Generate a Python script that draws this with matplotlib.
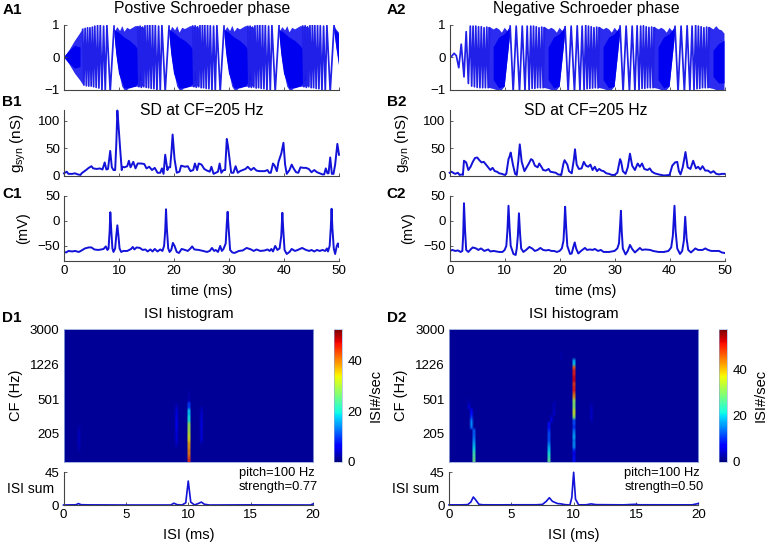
import numpy as np
import matplotlib
matplotlib.use("Agg")
import matplotlib.pyplot as plt

plt.rcParams['font.family'] = ['Liberation Sans', 'DejaVu Sans']
plt.rcParams['mathtext.default'] = 'regular'

W, H = 768.0, 545.0
nan = float('nan')

# A1, sparse part of the waveform (turning points)
a1_zig_t = [3.4, 3.62, 3.84, 4.06, 4.28, 4.5, 4.72, 4.94, 5.16, 5.38, 5.6, 5.85, 6.1, 6.35, 6.6, 6.9, 7.2, 7.5, 7.8, 8.4, 9.1, nan,
            13.4, 13.62, 13.84, 14.06, 14.28, 14.5, 14.72, 14.94, 15.16, 15.38, 15.6, 15.85, 16.1, 16.35, 16.6, 16.9, 17.2, 17.5, 17.8, 18.4, 19.1, nan,
            23.4, 23.62, 23.84, 24.06, 24.28, 24.5, 24.72, 24.94, 25.16, 25.38, 25.6, 25.85, 26.1, 26.35, 26.6, 26.9, 27.2, 27.5, 27.8, 28.4, 29.1, nan,
            33.4, 33.62, 33.84, 34.06, 34.28, 34.5, 34.72, 34.94, 35.16, 35.38, 35.6, 35.85, 36.1, 36.35, 36.6, 36.9, 37.2, 37.5, 37.8, 38.4, 39.1, nan,
            43.4, 43.62, 43.84, 44.06, 44.28, 44.5, 44.72, 44.94, 45.16, 45.38, 45.6, 45.85, 46.1, 46.35, 46.6, 46.9, 47.2, 47.5, 47.8, 48.4, 49.1]
a1_zig_y = [.85, -.85, .88, -.87, .9, -.88, .9, -.88, .92, -.9, .95, -.92, .97, -.94, .98, -1.02, .95, -1.03, .97, -1.05, .95, nan,
            .93, -.9, .95, -.92, .92, -.9, .96, -.92, .97, -.93, .98, -.95, .98, -.96, .97, -1.03, .95, -1.04, .97, -1.05, .95, nan,
            .95, -.9, .96, -.92, .93, -.9, .97, -.93, .98, -.93, .99, -.95, .98, -.96, .96, -1.03, .95, -1.04, .97, -1.05, .95, nan,
            .94, -.91, .95, -.92, .92, -.91, .96, -.94, .97, -.93, .98, -.95, .98, -.96, .97, -1.03, .95, -1.04, .97, -1.05, .96, nan,
            .95, -.9, .96, -.92, .93, -.9, .97, -.93, .97, -.93, .98, -.95, .97, -.96, .96, -1.03, .95, -1.04, .97, -1.05, .97]

# A1, envelope of the dense part
a1_env_t = [0, .5, 1, 2, 3, 3.5, nan,
            9.1, 9.3, 9.7, 10.2, 10.6, 11, 11.5, 12, 13, 14, 14.6, nan,
            19.1, 19.3, 19.7, 20.2, 20.6, 21, 21.5, 22, 23, 24, 24.6, nan,
            29.1, 29.3, 29.7, 30.2, 30.6, 31, 31.5, 32, 33, 34, 34.6, nan,
            39.1, 39.3, 39.7, 40.2, 40.6, 41, 41.5, 42, 43, 44, 44.6, nan,
            49.1, 49.5, 50]
a1_env_hi = [0, .1, .22, .5, .75, .88, nan,
             .95, .8, .92, .8, .95, .78, .9, .85, .95, .93, .9, nan,
             .97, .8, .93, .82, .95, .75, .9, .86, .95, .93, .9, nan,
             .95, .82, .92, .8, .96, .78, .9, .85, .95, .93, .9, nan,
             .96, .8, .92, .82, .95, .76, .9, .85, .95, .93, .9, nan,
             1.0, .85, .75]
a1_env_lo = [0, -.1, -.22, -.5, -.72, -.85, nan,
             .9, .45, -.1, -.6, -.9, -1, -1, -.92, -.9, -.9, -.88, nan,
             .9, .45, -.1, -.6, -.9, -1, -1, -.92, -.9, -.9, -.88, nan,
             .9, .45, -.1, -.6, -.9, -1, -1, -.92, -.9, -.9, -.88, nan,
             .9, .45, -.1, -.6, -.9, -1, -1, -.92, -.9, -.9, -.88, nan,
             .9, .3, -.25]
a1_core_t = [0, 1, 2, 3, nan,
             9.1, 9.5, 10, 11, 12, 13, 14, nan,
             19.1, 19.5, 20, 21, 22, 23, 24, nan,
             29.1, 29.5, 30, 31, 32, 33, 34, nan,
             39.1, 39.5, 40, 41, 42, 43, 44, nan,
             49.1, 49.5, 50]
a1_core_hi = [0, .2, .35, .3, nan,
              .85, .8, .75, .6, .5, .35, .1, nan,
              .85, .8, .75, .6, .5, .35, .1, nan,
              .85, .8, .75, .6, .5, .35, .1, nan,
              .85, .8, .75, .6, .5, .35, .1, nan,
              .9, .8, .7]
a1_core_lo = [0, -.2, -.35, -.3, nan,
              .85, .1, -.5, -.95, -.95, -.9, -.7, nan,
              .85, .1, -.5, -.95, -.95, -.9, -.7, nan,
              .85, .1, -.5, -.95, -.95, -.9, -.7, nan,
              .85, .1, -.5, -.95, -.95, -.9, -.7, nan,
              .85, .35, -.2]

# A2
a2_zig_t = [0, .3, .8, 1.2, 1.65, 2.1, 2.6, 3.0, 3.4, 3.75, 4.0, 4.25, 4.5, 4.75, 5.0, 5.25, 5.5, 5.75, 6.0, 6.25, 6.5, 6.75, 7.0, 7.25, nan,
            11.0, 11.55, 12.1, 12.7, 13.2, 13.7, 14.1, 14.45, 14.75, 15.0, 15.25, 15.5, 15.75, 16.0, 16.25, 16.5, 16.75, 17.0, 17.25, nan,
            21.0, 21.55, 22.1, 22.7, 23.2, 23.7, 24.1, 24.45, 24.75, 25.0, 25.25, 25.5, 25.75, 26.0, 26.25, 26.5, 26.75, 27.0, 27.25, nan,
            31.0, 31.55, 32.1, 32.7, 33.2, 33.7, 34.1, 34.45, 34.75, 35.0, 35.25, 35.5, 35.75, 36.0, 36.25, 36.5, 36.75, 37.0, 37.25, nan,
            41.0, 41.55, 42.1, 42.7, 43.2, 43.7, 44.1, 44.45, 44.75, 45.0, 45.25, 45.5, 45.75, 46.0, 46.25, 46.5, 46.75, 47.0, 47.25]
a2_zig_y = [0, .02, .12, .05, -.32, .4, -.6, .78, -.8, .95, -.88, .95, -.9, .95, -.92, .93, -.93, .93, -.93, .9, -.93, .92, -.93, .9, nan,
            .95, -1.05, .95, -1.05, .95, -1.02, .95, -1.0, .95, -.95, .95, -.95, .93, -.93, .9, -.93, .92, -.93, .9, nan,
            .93, -1.05, .95, -1.05, .96, -1.02, .95, -1.0, .97, -.96, .95, -.95, .93, -.94, .9, -.93, .92, -.94, .9, nan,
            .95, -1.05, .95, -1.05, .95, -1.03, .96, -1.0, .95, -.95, .96, -.95, .93, -.93, .91, -.93, .92, -.93, .9, nan,
            .94, -1.05, .95, -1.05, .96, -1.02, .95, -1.0, .98, -.96, .95, -.95, .93, -.93, .9, -.93, .92, -.93, .9]
a2_env_t = [7, 7.5, 8, 8.5, 9, 9.5, 10, 10.5, 11, nan,
            17, 17.5, 18, 18.5, 19, 19.5, 20, 20.5, 21, nan,
            27, 27.5, 28, 28.5, 29, 29.5, 30, 30.5, 31, nan,
            37, 37.5, 38, 38.5, 39, 39.5, 40, 40.5, 41, nan,
            47, 47.5, 48, 48.5, 49, 49.5, 50]
a2_env_hi = [.92, .9, .85, .9, .85, .75, .9, .8, .95, nan,
             .92, .9, .85, .9, .85, .75, .9, .8, .95, nan,
             .92, .9, .85, .9, .85, .75, .9, .8, .95, nan,
             .92, .9, .85, .9, .85, .75, .9, .8, .95, nan,
             .92, .9, .85, .95, .85, .82, .72]
a2_env_lo = [-.93, -.95, -.97, -1, -1, -1, -.9, -.1, .7, nan,
             -.93, -.95, -.97, -1, -1, -1, -.9, -.1, .7, nan,
             -.93, -.95, -.97, -1, -1, -1, -.9, -.1, .7, nan,
             -.93, -.95, -.97, -1, -1, -1, -.9, -.1, .7, nan,
             -.93, -.95, -.97, -1, -1, -1, -1]
a2_core_t = [8, 9, 10, 10.5, 11, nan, 18, 19, 20, 20.5, 21, nan, 28, 29, 30, 30.5, 31, nan,
             38, 39, 40, 40.5, 41, nan, 48, 49, 50]
a2_core_hi = [.3, .6, .7, .8, .9, nan, .3, .6, .7, .8, .9, nan, .3, .6, .7, .8, .9, nan,
              .3, .6, .7, .8, .9, nan, .2, .4, .5]
a2_core_lo = [-.7, -.95, -.9, -.1, .7, nan, -.7, -.95, -.9, -.1, .7, nan, -.7, -.95, -.9, -.1, .7, nan,
              -.7, -.95, -.9, -.1, .7, nan, -.6, -.8, -.8]

# synaptic conductance
b1_t = [0, .5, .8, 1.5, 2, 2.5, 3, 3.2, 4, 4.5, 5, 5.3, 6, 6.5, 7, 7.4, 7.7, 8, 8.4, 8.7, 9, 9.3, 9.5, 9.7, 9.85, 10.2, 10.5,
        10.6, 11, 11.5, 11.8, 12.1, 12.6, 13, 13.4, 14, 14.6, 15, 15.5, 16, 16.5, 17, 17.5, 17.8, 18.1, 18.4, 18.8, 19, 19.3, 19.55, 19.75, 20.1, 20.5,
        21, 21.3, 22, 22.5, 23, 23.5, 23.8, 24.2, 24.5, 25, 25.5, 26, 26.5, 26.8, 27.2, 27.6, 28, 28.3, 28.6, 29, 29.3, 29.6, 29.8, 30.1, 30.4,
        30.8, 31.2, 31.6, 32, 32.5, 33, 33.4, 34, 34.5, 35, 35.5, 36, 36.5, 37, 37.3, 37.6, 38, 38.3, 38.7, 39, 39.5, 39.9, 40.2, 40.5,
        41, 41.4, 41.8, 42.2, 42.6, 43, 43.5, 44, 44.5, 45, 45.5, 46, 46.5, 47, 47.3, 47.6, 47.9, 48.1, 48.4, 48.7, 49, 49.3, 49.7, 50]
b1_y = [4, 7, 3, 3, 4, 2, 1, 4, 10, 14, 17, 13, 12, 13, 11, 24, 11, 12, 45, 15, 10, 10, 55, 119, 100, 50, 10,
        16, 15, 17, 27, 15, 25, 13, 22, 22, 21, 13, 16, 10, 14, 5, 5, 13, 3, 38, 10, 15, 15, 45, 75, 30, 5,
        7, 18, 16, 17, 8, 10, 22, 10, 22, 20, 12, 9, 7, 16, 3, 5, 7, 22, 5, 10, 10, 67, 55, 30, 5,
        5, 17, 5, 8, 10, 12, 16, 10, 14, 9, 8, 8, 8, 10, 5, 5, 22, 18, 8, 25, 40, 60, 20, 3,
        10, 20, 12, 6, 5, 15, 14, 14, 12, 6, 10, 6, 4, 2, 2, 13, 4, 4, 33, 3, 3, 20, 58, 38]

b2_t = [0, .3, .8, 1, 1.5, 1.8, 2.2, 2.4, 2.6, 3, 3.4, 3.8, 4.2, 4.6, 5, 5.4, 5.8, 6.2, 6.6, 7, 7.4, 7.8, 8.2, 8.6, 9, 9.5, 10, 10.3,
        10.7, 10.9, 11.1, 11.5, 11.9, 12.2, 12.5, 12.75, 13.1, 13.6, 14, 14.4, 14.8, 15.1, 15.5, 16, 16.3, 16.8, 17, 17.5, 18, 18.3, 18.8, 19.3, 19.7, 20.3,
        20.7, 20.9, 21.4, 21.7, 22.2, 22.6, 22.8, 23.1, 23.5, 24, 24.4, 24.8, 25.2, 25.6, 26, 26.4, 26.8, 27.2, 27.6, 28, 28.5, 29, 29.5, 30, 30.5,
        31, 31.2, 31.5, 32, 32.4, 32.8, 33.2, 33.7, 34.2, 34.6, 35, 35.4, 36, 36.4, 36.8, 37.3, 38, 39, 40, 40.5, 41, 41.4, 41.7, 42,
        42.4, 42.9, 43.3, 43.8, 44.3, 44.8, 45.2, 45.6, 46, 46.5, 47, 47.5, 48, 48.5, 49, 49.5, 50]
b2_y = [5, 7, 4, 3, 5, 1, 2, 1, 27, 24, 10, 16, 25, 32, 33, 28, 24, 25, 20, 15, 10, 14, 8, 7, 4, 3, 1, 3,
        30, 35, 42, 20, 3, 1, 28, 57, 25, 8, 15, 22, 30, 28, 18, 15, 22, 14, 10, 9, 12, 7, 6, 5, 2, 1,
        22, 28, 20, 8, 4, 30, 48, 20, 12, 13, 25, 18, 16, 20, 10, 16, 8, 12, 9, 8, 4, 3, 1, 1, 5,
        30, 25, 8, 3, 15, 40, 18, 10, 22, 16, 22, 12, 10, 13, 7, 4, 2, 0, 1, 18, 24, 25, 8, 2,
        15, 43, 15, 12, 27, 13, 16, 11, 17, 9, 9, 5, 8, 3, 2, 3, 3]

# membrane potential
c1_t = [0, .4, .8, 1.5, 2, 2.7, 3.2, 3.8, 4.5, 5, 5.5, 6.2, 6.8, 7.2, 7.6, 7.9, 8.1, 8.3, 8.42, 8.6, 8.8, 9, 9.3, 9.5, 9.7, 9.9, 10.1, 10.4,
        10.8, 11.5, 12.2, 12.5, 12.8, 13.2, 13.8, 14.3, 14.8, 15.2, 15.7, 16.1, 16.5, 17, 17.5, 17.9, 18.2, 18.4, 18.55, 18.7, 18.95, 19.2, 19.5, 19.8, 20.1, 20.5,
        20.9, 21.4, 22, 22.5, 23, 23.3, 23.7, 24.5, 25.3, 26, 26.5, 26.9, 27.3, 27.6, 28, 28.4, 28.7, 29, 29.4, 29.6, 29.75, 29.9, 30.2, 30.6,
        31, 31.8, 32.5, 33.2, 34, 34.5, 35, 35.7, 36.5, 37, 37.4, 37.7, 38, 38.4, 38.8, 39.2, 39.5, 39.7, 39.85, 40.1, 40.5,
        41, 41.4, 42, 42.5, 43.3, 44, 44.6, 45, 45.5, 46, 46.5, 47, 47.5, 47.8, 48, 48.3, 48.5, 48.65, 48.8, 49.05, 49.3, 49.6, 49.8, 50]
c1_y = [-62, -63, -60, -61, -60, -62, -59, -55, -53, -53, -57, -58, -57, -56, -51, -58, -55, -20, 17, -20, -55, -62, -55, -30, -9, -30, -55, -62,
        -60, -60, -56, -52, -57, -53, -54, -58, -57, -61, -57, -61, -56, -61, -57, -60, -50, -20, 23, -15, -55, -62, -58, -44, -50, -62,
        -64, -56, -58, -60, -55, -51, -57, -58, -60, -62, -60, -54, -60, -58, -62, -50, -60, -56, -45, -5, 18, -10, -58, -63,
        -64, -60, -59, -54, -57, -60, -57, -60, -59, -57, -60, -56, -61, -50, -58, -55, -30, 16, -15, -58, -66,
        -62, -56, -60, -58, -54, -58, -60, -58, -61, -58, -60, -58, -60, -55, -61, -50, -15, 24, -15, -55, -66, -50, -45, -52]

c2_t = [0, .5, 1, 1.5, 2, 2.3, 2.45, 2.6, 2.8, 3, 3.4, 3.8, 4.2, 4.8, 5.2, 5.7, 6.3, 7, 7.4, 8, 9, 9.6, 10, 10.3, 10.5, 10.7, 10.9, 11.1, 11.6,
        12, 12.2, 12.4, 12.6, 12.8, 13, 13.4, 13.9, 14.5, 15, 15.5, 16, 16.5, 17, 17.5, 18, 18.5, 19, 19.5, 20, 20.4, 20.7, 20.85, 21, 21.2, 21.4, 21.9,
        22.2, 22.5, 22.75, 23, 23.4, 23.9, 24.6, 25, 25.5, 26, 26.4, 27, 27.5, 28, 29, 30, 30.5, 30.8, 31, 31.15, 31.3, 31.5, 32,
        32.4, 32.8, 33.2, 33.7, 34.6, 35, 35.6, 36.5, 37, 38, 39, 39.8, 40.3, 40.6, 40.9, 41.1, 41.4, 41.9,
        42.3, 42.6, 42.85, 43.1, 43.4, 43.9, 44.7, 45.2, 46, 46.5, 47, 47.6, 48.2, 49, 49.5, 50]
c2_y = [-60, -58, -60, -59, -62, -60, -30, 35, -20, -58, -62, -57, -53, -55, -58, -55, -60, -57, -61, -60, -62, -62, -58, -50, -20, 30, -15, -50, -66,
        -68, -55, -30, 15, -25, -55, -62, -58, -52, -55, -60, -58, -54, -58, -59, -58, -60, -60, -62, -60, -55, -40, -10, 28, -15, -50, -66,
        -65, -52, -43, -55, -65, -60, -54, -58, -57, -58, -56, -60, -58, -62, -62, -60, -55, -45, -10, 20, -20, -55, -67,
        -60, -48, -56, -63, -54, -58, -57, -58, -60, -62, -62, -60, -53, -30, 30, -20, -55, -66,
        -60, -40, 8, -35, -58, -63, -55, -58, -58, -55, -58, -60, -60, -60, -63, -64]

# ISI histogram ridges, one value per CF channel counted from the lowest CF
d1_ridge10 = [45, 42, 40, 40, 38, 38, 35, 33, 32, 30, 30, 28, 20, 20, 18, 18, 10, 10, 2.5, 2, 2, 1.5]
d1_ridge9 = [0, 0, 0, 0, 2, 3, 4, 4, 4, 4.5, 5, 5, 5, 4.5, 4.5, 4, 3, 2]
d1_ridge11 = [0, 0, 0, 0, 0, 2, 3.5, 4, 4, 4, 4.5, 4.5, 4, 4, 3.5, 3, 2]
d1_ridge1 = [0, 0, 0, 2, 2.5, 3, 3, 3, 3, 2.5, 2, 1.5]
d2_ridge2_isi = [1.95, 1.98, 2.0, 2.03, 2.05, 2.05, 2.03, 2.0, 1.98, 1.95, 1.9, 1.88, 1.85, 1.82, 1.78, 1.74, 1.7, 1.65, 1.6]
d2_ridge2_val = [28, 26, 25, 22, 20, 18, 16, 14, 13, 13, 14, 15, 14, 10, 8, 7, 5, 3, 2]
d2_ridge8_isi = [8.07, 8.03, 8.0, 7.96, 7.94, 7.94, 7.96, 7.98, 8.0, 8.03, 8.07, 8.1, 8.15, 8.22, 8.3, 8.38, 8.45, 8.5, 8.55]
d2_ridge8_val = [27, 24, 22, 20, 18, 15, 12, 12, 12, 10, 8, 8, 5, 4, 4, 3, 3, 3, 2]
d2_ridge10 = [8, 8, 6, 9, 16, 16, 15, 18, 16, 14, 10, 12, 12, 30, 35, 35, 30, 30, 32, 42, 45, 50, 50, 48, 52, 52, 50, 50, 45, 20, 18]
d2_ridge11 = [0, 0, 0, 0, 0, 0, 0, 0, 0, 0, 0, 0, 2.5, 3.5, 3.5, 3.5, 3, 2]
d2_ridge9 = [1.5, 2, 2, 1.5]
d2_ridge20 = [2, 2.5, 2.5, 2]

# summed ISI
d1_sum_t = [0, 1, 1.2, 1.4, 2, 5, 8.6, 8.85, 9.1, 9.5, 9.8, 10, 10.2, 10.5, 10.8, 11.05, 11.3, 11.7, 15, 19.8, 20]
d1_sum_y = [0, .3, 2, .4, .2, 0, 0, 2.5, .5, 0, 3, 33, 4, 0, 2, 4, 1, 0, .2, 0, 1.5]
d2_sum_t = [0, 1, 1.5, 1.75, 1.95, 2.1, 2.4, 2.7, 4, 5, 7, 7.5, 7.8, 8.05, 8.3, 8.7, 9, 9.3, 9.7, 9.85, 10, 10.15, 10.4, 11, 11.4, 11.8, 14, 15, 15.2, 19.5, 20]
d2_sum_y = [.2, .2, .5, 4, 11, 8, 1, .3, .2, .3, .3, .8, 5, 10, 5, 2, 1.5, .5, 0, 10, 45, 8, .2, .3, 1.5, .5, .2, 1, .3, .2, 2]

cf_ticks = [205, 501, 1226, 3000]
n_cf, n_isi = 40, 101
isi_bin = 0.2


def ax_px(fig, x0, y0, x1, y1):
    # axes from pixel corners, y counted from the top of the picture
    return fig.add_axes([x0 / W, 1 - y1 / H, (x1 - x0) / W, (y1 - y0) / H])


def style(ax, xt, yt, xl, yl, show_x=False):
    ax.set_xlim(*xl)
    ax.set_ylim(*yl)
    ax.set_xticks(xt)
    ax.set_yticks(yt)
    for s in ['top', 'right']:
        ax.spines[s].set_visible(False)
    for s in ['left', 'bottom']:
        ax.spines[s].set_color('#444444')
        ax.spines[s].set_linewidth(0.8)
    ax.tick_params(direction='in', length=2.5, width=0.6, color='#444444', labelsize=9.6,
                   pad=3, labelbottom=show_x)


def put(fig, x, y, s, **kw):
    kw.setdefault('ha', 'center')
    kw.setdefault('va', 'center')
    kw.setdefault('fontsize', 11)
    fig.text(x / W, 1 - y / H, s, **kw)


def wave_panel(fig, x0, x1, env, core, zig):
    ax = ax_px(fig, x0, 24.5, x1, 90)
    style(ax, range(0, 51, 10), [-1, 0, 1], (0, 50), (-1, 1))
    ax.set_yticklabels(['\u22121', '0', '1'])
    ax.fill_between(env[0], env[1], env[2], color='#2c2cf0', lw=0)
    ax.fill_between(core[0], core[1], core[2], color='#0000f0', lw=0)
    ax.plot(zig[0], zig[1], color='#2020e8', lw=1.25)
    return ax


def trace_panel(fig, x0, x1, y0, y1, t, v, yt, yl, show_x=False):
    ax = ax_px(fig, x0, y0, x1, y1)
    style(ax, range(0, 51, 10), yt, (0, 50), yl, show_x)
    ax.plot(t, v, color='#1212d8', lw=1.4, clip_on=False if not show_x else True)
    return ax


def isi_panel(fig, x0, x1, xc0, xc1, mat, vmax, sum_t, sum_y, pitch, strength):
    ax = ax_px(fig, x0, 329.5, x1, 461.7)
    im = ax.imshow(mat, origin='lower', aspect='auto', cmap='jet', vmin=0, vmax=vmax,
                   interpolation='bilinear',
                   extent=[-isi_bin / 2, 20 + isi_bin / 2, np.log(100), np.log(3000)])
    ax.set_xlim(0, 20)
    ax.set_xticks([])
    ax.set_yticks(np.log(cf_ticks))
    ax.set_yticklabels([str(c) for c in cf_ticks], fontsize=9.6)
    ax.tick_params(length=0, pad=3)
    for s in ax.spines.values():
        s.set_color('#8fa6d8')
        s.set_linewidth(0.6)

    cax = ax_px(fig, xc0, 329.5, xc1, 461.7)
    cb = fig.colorbar(im, cax=cax)
    cb.set_ticks([0, 20, 40])
    cb.ax.tick_params(length=0, labelsize=9.6, pad=4)
    cb.outline.set_linewidth(0.4)
    cb.outline.set_edgecolor('#8fa6d8')

    ax2 = ax_px(fig, x0, 472.3, x1, 505)
    style(ax2, range(0, 21, 5), [0, 45], (0, 20), (0, 45), True)
    ax2.plot(sum_t, sum_y, color='#1212d8', lw=1.2, clip_on=False)
    put(fig, x0 + 175.5, 473, pitch, ha='left', fontsize=9.3)
    put(fig, x0 + 175.5, 487, strength, ha='left', fontsize=9.3)
    return ax


def ridge_matrix(cols):
    # cols: list of (first channel, isi per channel or one isi, values per channel)
    m = np.full((n_cf, n_isi), 1.2)
    for start, isi, vals in cols:
        for r, v in enumerate(vals):
            x = isi[r] if hasattr(isi, '__len__') else isi
            j = int(round(x / isi_bin))
            m[start + r, min(j, n_isi - 1)] = max(v, 1.2)
    return m


d1_mat = ridge_matrix([(0, 10.0, d1_ridge10), (0, 9.0, d1_ridge9), (0, 11.0, d1_ridge11), (0, 1.2, d1_ridge1)])
d2_mat = ridge_matrix([(0, d2_ridge2_isi, d2_ridge2_val), (0, d2_ridge8_isi, d2_ridge8_val),
                       (0, 10.0, d2_ridge10), (0, 11.4, d2_ridge11), (30, 9.0, d2_ridge9), (29, 20.0, d2_ridge20)])

fig = plt.figure(figsize=(7.68, 5.45), dpi=100)

xl, xr = 64.0, 339.0
xl2, xr2 = 449.7, 724.5

wave_panel(fig, xl, xr, (a1_env_t, a1_env_hi, a1_env_lo), (a1_core_t, a1_core_hi, a1_core_lo), (a1_zig_t, a1_zig_y))
wave_panel(fig, xl2, xr2, (a2_env_t, a2_env_hi, a2_env_lo), (a2_core_t, a2_core_hi, a2_core_lo), (a2_zig_t, a2_zig_y))

trace_panel(fig, xl, xr, 110, 175.5, b1_t, b1_y, [0, 50, 100], (0, 120))
trace_panel(fig, xl2, xr2, 110, 175.5, b2_t, b2_y, [0, 50, 100], (0, 120))

axc1 = trace_panel(fig, xl, xr, 195.7, 261, c1_t, c1_y, [-50, 0, 50], (-80, 50), True)
axc2 = trace_panel(fig, xl2, xr2, 195.7, 261, c2_t, c2_y, [-50, 0, 50], (-80, 50), True)
for a in (axc1, axc2):
    a.set_yticklabels(['\u221250', '0', '50'])

isi_panel(fig, 63.5, 313, 334.3, 342, d1_mat, 52.4, d1_sum_t, d1_sum_y, 'pitch=100 Hz', 'strength=0.77')
isi_panel(fig, 449, 698.3, 719.3, 727, d2_mat, 57.3, d2_sum_t, d2_sum_y, 'pitch=100 Hz', 'strength=0.50')

for x, txt in [(202, 'Postive Schroeder phase'), (586, 'Negative Schroeder phase')]:
    put(fig, x, 8, txt, fontsize=11.3)
for x in (202, 586):
    put(fig, x, 110.5, 'SD at CF=205 Hz', fontsize=11.3)
    put(fig, x, 291, 'time (ms)', fontsize=10.5)
for x in (188.5, 573.5):
    put(fig, x, 314, 'ISI histogram', fontsize=11)
    put(fig, x, 535, 'ISI (ms)', fontsize=10.5)

for x, lab in [(12, '1'), (396.5, '2')]:
    put(fig, x, 10.5, 'A' + lab, fontweight='bold', fontsize=11)
    put(fig, x, 102.5, 'B' + lab, fontweight='bold', fontsize=11)
    put(fig, x, 194, 'C' + lab, fontweight='bold', fontsize=11)
    put(fig, x, 318.5, 'D' + lab, fontweight='bold', fontsize=11)

for x in (18.5, 403.5):
    put(fig, x, 143, 'g$_{syn}$ (nS)', rotation=90, fontsize=11)
    put(fig, x + 5, 228, '(mV)', rotation=90, fontsize=10.5)
for x in (16, 401):
    put(fig, x, 395, 'CF (Hz)', rotation=90, fontsize=10.5)
for x, y0 in [(30.5, 489), (415.5, 489)]:
    put(fig, x, y0, 'ISI sum', fontsize=10)
for x in (376, 760.5):
    put(fig, x, 395, 'ISI#/sec', rotation=90, fontsize=10.5)

fig.savefig('out.png', dpi=100)
